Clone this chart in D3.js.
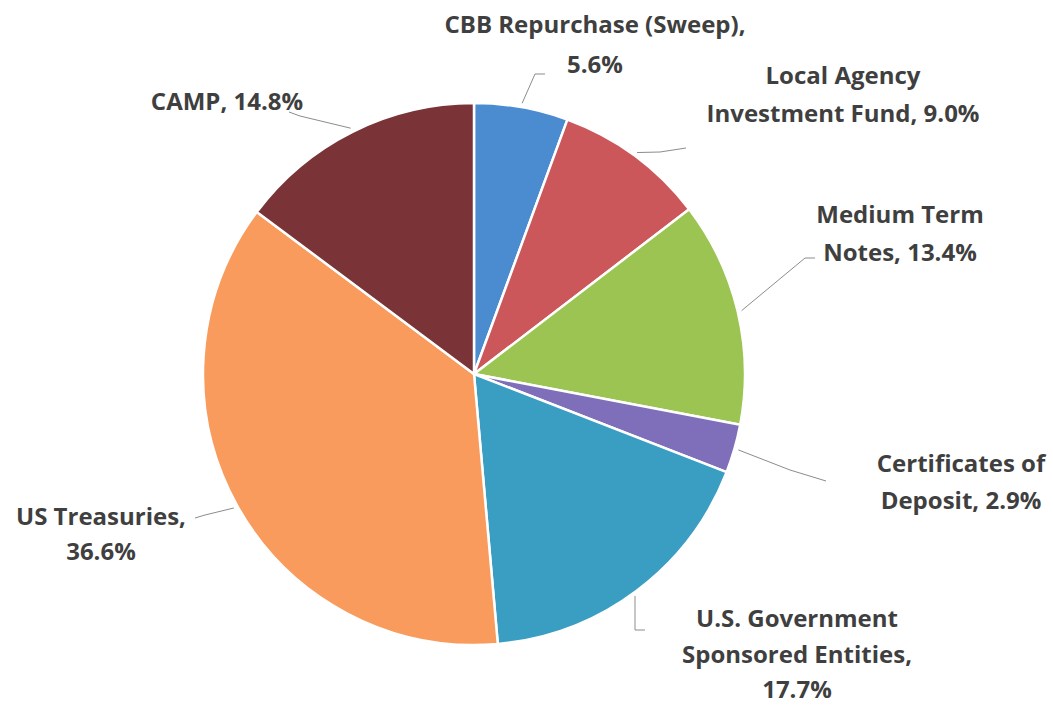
<!DOCTYPE html>
<html><head><meta charset="utf-8">
<script src="https://cdn.jsdelivr.net/npm/d3@7"></script>
<style>body{margin:0;background:#fff}svg{display:block}</style>
</head><body><svg id="c" width="1053" height="708"></svg>
<script>
const categories = ["CBB Repurchase (Sweep)", "Local Agency Investment Fund", "Medium Term Notes", "Certificates of Deposit", "U.S. Government Sponsored Entities", "US Treasuries", "CAMP"];
const values = [5.6, 9.0, 13.4, 2.9, 17.7, 36.6, 14.8];
const colors = ["#4a8ccf", "#cb575b", "#9cc452", "#7f6fbb", "#3a9ec3", "#f89b5c", "#7a3437"];
const labelLines = [
  ["CBB Repurchase (Sweep),", "5.6%"],
  ["Local Agency", "Investment Fund, 9.0%"],
  ["Medium Term", "Notes, 13.4%"],
  ["Certificates of", "Deposit, 2.9%"],
  ["U.S. Government", "Sponsored Entities,", "17.7%"],
  ["US Treasuries,", "36.6%"],
  ["CAMP, 14.8%"]
];
// label layout: center x, first baseline y, line height
const labelPos = [[595,33,40],[843,84,38],[900,223,38],[961,472,37],[797,627,35.5],[101,525,35],[227,110,38]];
// leader line: offset along radius (px), elbow point, end point
const leaders = [
  {r:4, elbow:[535,74], end:[545,74]},
  {r:4, elbow:[660,152], end:[686,148]},
  {r:4, elbow:[805,258], end:[815,258]},
  {r:4, elbow:[790,470], end:[826,481]},
  {r:0, elbow:[635,630], end:[645,630], vertical:true},
  {r:4, elbow:[205,515], end:[195,518]},
  {r:4, elbow:[300,116], end:[289,112]}
];

const cx = 474, cy = 374, R = 271;
const svg = d3.select("#c");
const g = svg.append("g").attr("transform", `translate(${cx},${cy})`);
const pie = d3.pie().sort(null).value(d => d);
const arcs = pie(values);
const arc = d3.arc().innerRadius(0).outerRadius(R);
g.selectAll("path.s").data(arcs).join("path").attr("class","s")
  .attr("d", arc).attr("fill", (d,i) => colors[i])
  .attr("stroke", "#fff").attr("stroke-width", 2.5).attr("stroke-linejoin","round");

arcs.forEach((a,i) => {
  const L = leaders[i];
  const mid = (a.startAngle + a.endAngle)/2;
  let sx = cx + Math.sin(mid)*(R+L.r), sy = cy - Math.cos(mid)*(R+L.r);
  if (L.vertical) {
    sx = L.elbow[0];
    const dx = sx - cx;
    sy = cy + Math.sqrt(R*R - dx*dx) + 4;
  }
  const pts = [[sx,sy],L.elbow,L.end];
  svg.append("path").attr("d", d3.line()(pts)).attr("fill","none")
    .attr("stroke","#8c8c8c").attr("stroke-width",1);
});

labelLines.forEach((lines,i) => {
  const [x,y,lh] = labelPos[i];
  const t = svg.append("text").attr("text-anchor","middle")
    .attr("font-family","'Open Sans', Lato, sans-serif").attr("font-weight","bold")
    .attr("font-size",24).attr("fill","#3f3f3f");
  lines.forEach((s,k) => t.append("tspan").attr("x",x).attr("y",y+k*lh).text(s));
});
</script></body></html>
